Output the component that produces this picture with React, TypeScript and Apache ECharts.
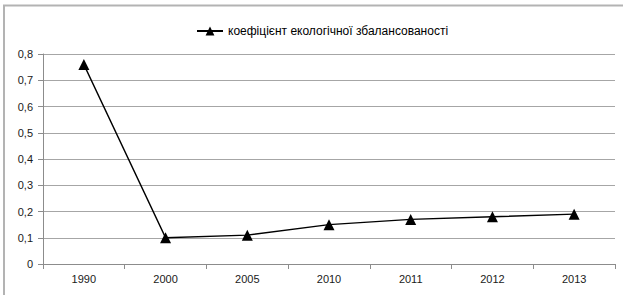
import React, { useEffect, useRef } from "react";
import * as echarts from "echarts";

const categories = ["1990", "2000", "2005", "2010", "2011", "2012", "2013"];
const values = [0.76, 0.1, 0.11, 0.15, 0.17, 0.18, 0.19];
const seriesName = "коефіцієнт екологічної збалансованості";

export default function App() {
  const ref = useRef<HTMLDivElement>(null);
  useEffect(() => {
    if (!ref.current) return;
    const chart = echarts.init(ref.current, null, { renderer: "svg" });
    const font = "'Liberation Sans', Arial, sans-serif";
    chart.setOption({
      animation: false,
      backgroundColor: "#ffffff",
      textStyle: { fontFamily: font },
      graphic: [
        {
          type: "rect",
          shape: { x: 4, y: 5.5, width: 700, height: 400 },
          style: { fill: "none", stroke: "#b3b3b3", lineWidth: 2 },
          silent: true,
        },
      ],
      legend: {
        data: [seriesName],
        left: 191,
        top: 20,
        itemWidth: 26,
        itemHeight: 11,
        itemGap: 4,
        textStyle: { fontSize: 12, color: "#000", fontFamily: font },
      },
      grid: { left: 43, right: 8, top: 54, bottom: 31 },
      xAxis: {
        type: "category",
        data: categories,
        boundaryGap: true,
        axisLine: { lineStyle: { color: "#8c8c8c", width: 1 } },
        axisTick: { show: true, length: 5, lineStyle: { color: "#8c8c8c" } },
        axisLabel: { fontSize: 11, color: "#1a1a1a", margin: 9, fontFamily: font },
        splitLine: { show: false },
      },
      yAxis: {
        type: "value",
        min: 0,
        max: 0.8,
        interval: 0.1,
        axisLine: { show: true, lineStyle: { color: "#8c8c8c", width: 1 } },
        axisTick: { show: true, length: 5, lineStyle: { color: "#8c8c8c" } },
        axisLabel: {
          fontSize: 11,
          color: "#1a1a1a",
          margin: 10,
          fontFamily: font,
          formatter: (v: number) => (v === 0 ? "0" : v.toFixed(1).replace(".", ",")),
        },
        splitLine: { show: true, lineStyle: { color: "#a6a6a6", width: 1 } },
      },
      series: [
        {
          name: seriesName,
          type: "line",
          data: values,
          symbol: "triangle",
          symbolSize: 11,
          itemStyle: { color: "#000" },
          lineStyle: { color: "#000", width: 1.5 },
        },
      ],
    });
    return () => chart.dispose();
  }, []);
  return (
    <div
      ref={ref}
      style={{ position: "fixed", left: 0, top: 0, width: 623, height: 295 }}
    />
  );
}
